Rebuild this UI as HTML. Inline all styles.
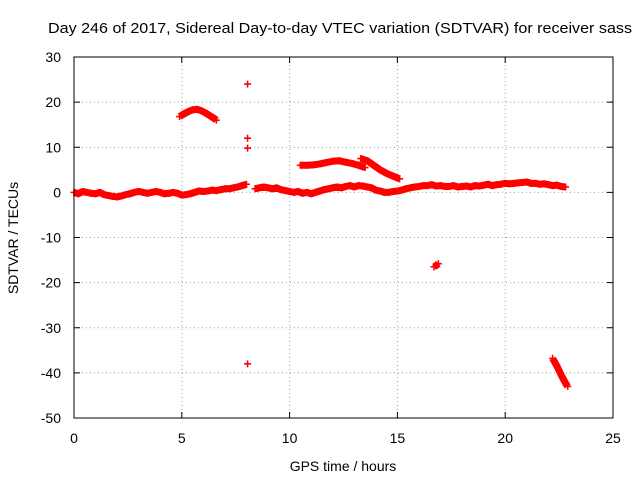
<!DOCTYPE html>
<html><head><meta charset="utf-8"><style>
body{margin:0;background:#fff}
svg{display:block;font-family:"Liberation Sans",sans-serif}
</style></head><body>
<svg id="chart" width="640" height="480">
<text x="48" y="33" font-size="15" textLength="584" lengthAdjust="spacingAndGlyphs">Day 246 of 2017, Sidereal Day-to-day VTEC variation (SDTVAR) for receiver sass</text>
<text x="343" y="471" font-size="14" text-anchor="middle">GPS time / hours</text>
<text x="18" y="238" font-size="14" text-anchor="middle" transform="rotate(-90 18 238)">SDTVAR / TECUs</text>
<g id="grid"></g><g id="marks"></g>
<rect x="74" y="57" width="539" height="361" fill="none" stroke="#000"/>
</svg>
<script>
const xTicks=[0,5,10,15,20,25];
const yTicks=[30,20,10,0,-10,-20,-30,-40,-50];
const mainBand=[[0,0],[0.2,-0.3],[0.4,0.2],[0.6,0],[0.8,-0.2],[1,-0.3],[1.2,0],[1.4,-0.5],[1.6,-0.7],[1.8,-0.9],[2,-1],[2.2,-0.8],[2.4,-0.5],[2.6,-0.3],[2.8,0],[3,0.2],[3.2,0],[3.4,-0.2],[3.6,0],[3.8,0.2],[4,0],[4.2,-0.3],[4.4,-0.2],[4.6,0],[4.8,-0.2],[5,-0.6],[5.2,-0.5],[5.4,-0.3],[5.6,0],[5.8,0.3],[6,0.2],[6.2,0.3],[6.4,0.5],[6.6,0.4],[6.8,0.6],[7,0.8],[7.2,0.8],[7.4,1],[7.6,1.2],[7.8,1.5],[8,1.8]];
const mainBand2=[[8.4,0.8],[8.6,1],[8.8,1.2],[9,1],[9.2,0.8],[9.4,1],[9.6,0.6],[9.8,0.4],[10,0.2],[10.2,0],[10.4,0.2],[10.6,-0.2],[10.8,0],[11,-0.3],[11.2,0],[11.4,0.3],[11.6,0.6],[11.8,0.8],[12,1],[12.2,1.2],[12.4,1],[12.6,1.3],[12.8,1.5],[13,1.2],[13.2,1.5],[13.4,1.4],[13.6,1.2],[13.8,1],[14,0.5],[14.2,0.3],[14.4,0],[14.6,0],[14.8,0.2],[15,0.3],[15.2,0.5],[15.4,0.8],[15.6,1],[15.8,1.2],[16,1.3],[16.2,1.5],[16.4,1.5],[16.6,1.7],[16.8,1.4],[17,1.5],[17.2,1.3],[17.4,1.3],[17.6,1.5],[17.8,1.2],[18,1.3],[18.2,1.4],[18.4,1.2],[18.6,1.5],[18.8,1.4],[19,1.6],[19.2,1.8],[19.4,1.5],[19.6,1.7],[19.8,1.8],[20,2],[20.2,1.9],[20.4,2],[20.6,2.1],[20.8,2.2],[21,2.3],[21.2,2],[21.4,2],[21.6,1.8],[21.8,1.9],[22,1.7],[22.2,1.5],[22.4,1.6],[22.6,1.3],[22.8,1.2]];
const arcA=[[4.9,16.8],[5.1,17.4],[5.3,17.9],[5.5,18.3],[5.7,18.4],[5.9,18.1],[6.1,17.6],[6.3,17],[6.5,16.4],[6.6,16]];
const arcB=[[10.5,6],[10.8,6],[11.1,6.1],[11.4,6.3],[11.7,6.6],[12,6.9],[12.3,7],[12.6,6.7],[12.9,6.4],[13.2,6],[13.5,5.5]];
const arcC=[[13.3,7.5],[13.6,7],[13.9,6],[14.2,5],[14.5,4.2],[14.8,3.6],[15.1,3]];
const segD=[[16.7,-16.5],[16.8,-16.2],[16.9,-15.8]];
const segE=[[22.2,-36.8],[22.4,-38.5],[22.6,-40.5],[22.8,-42.3],[22.9,-43]];
const isolated=[[8.05,24],[8.05,12],[8.05,9.8],[8.05,-38]];
const X=v=>74+v*539/25, Y=v=>57+(30-v)*361/80;
const NS='http://www.w3.org/2000/svg';
const grid=document.getElementById('grid'), marks=document.getElementById('marks');
function mk(t,a,p){const e=document.createElementNS(NS,t);for(const k in a)e.setAttribute(k,a[k]);p.appendChild(e);return e;}
xTicks.forEach(v=>{
 if(v>0&&v<25){const g=mk('line',{x1:X(v),x2:X(v),y1:57,y2:418,stroke:'#a0a0a0','stroke-dasharray':'1,3'},grid);
 
 }
 mk('line',{x1:X(v),x2:X(v),y1:418,y2:412,stroke:'#000'},grid);
 mk('line',{x1:X(v),x2:X(v),y1:57,y2:63,stroke:'#000'},grid);
 const t=mk('text',{x:X(v),y:443,'font-size':14,'text-anchor':'middle'},grid);t.textContent=v;
 
 
});
yTicks.forEach(v=>{
 if(v<30&&v>-50){const g=mk('line',{x1:74,x2:613,y1:Y(v),y2:Y(v),stroke:'#a0a0a0','stroke-dasharray':'1,3'},grid);
 
 }
 mk('line',{x1:74,x2:80,y1:Y(v),y2:Y(v),stroke:'#000'},grid);
 mk('line',{x1:613,x2:607,y1:Y(v),y2:Y(v),stroke:'#000'},grid);
 const t=mk('text',{x:61,y:Y(v)+5,'font-size':14,'text-anchor':'end'},grid);t.textContent=v;
 
 
});
function series(arr,name,band){
 const g=mk('g',{},marks);
 
 
 if(band&&arr.length>1){mk('polyline',{points:arr.map(p=>X(p[0])+','+Y(p[1])).join(' '),fill:'none',stroke:'#f00','stroke-width':7,'stroke-linejoin':'round'},g);}
 arr.forEach(p=>{const x=X(p[0]),y=Y(p[1]);
  const m=mk('path',{d:`M${x-3.5},${y}H${x+3.5}M${x},${y-3.5}V${y+3.5}`,stroke:'#f00','stroke-width':1.6},g);
  
  });
}
series(mainBand,'main-band-1',true);
series(mainBand2,'main-band-2',true);
series(arcA,'arc-a',true);
series(arcB,'arc-b',true);
series(arcC,'arc-c',true);
series(segD,'segment-d',true);
series(segE,'segment-e',true);
series(isolated,'isolated-points',false);
</script>
</body></html>
